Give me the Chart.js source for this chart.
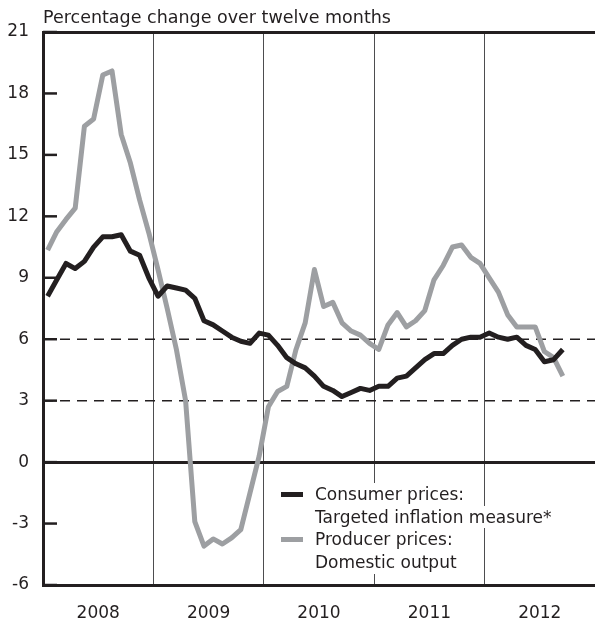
<!DOCTYPE html>
<html>
<head>
<meta charset="utf-8">
<script src="https://cdn.jsdelivr.net/npm/chart.js@4/dist/chart.umd.min.js"></script>
<style>
  body { margin: 0; background: #fff; }
  #wrap { position: relative; width: 595px; height: 625px; font-family: "DejaVu Sans", sans-serif; color: #231f20; }
  #title { position: absolute; left: 43px; top: 7px; font-size: 17.5px; line-height: 20px; white-space: nowrap; }
  #legend { position: absolute; left: 281px; top: 483px; font-size: 17px; }
  #legend .row { position: relative; height: 22.7px; line-height: 22.7px; white-space: nowrap; }
  #legend .sw { position: absolute; left: 0; top: 9px; width: 22px; height: 5px; }
  #legend .txt { position: absolute; left: 34px; background: #fff; padding-right: 2px; }
</style>
</head>
<body>
<div id="wrap">
  <canvas id="chart" width="595" height="625"></canvas>
  <div id="title">Percentage change over twelve months</div>
  <div id="legend"></div>
</div>
<script>
const YEARS = ["2008", "2009", "2010", "2011", "2012"];
const DASHED_LEVELS = [3, 6];

// monthly, Jan 2008 - Sep 2012
const consumerPrices = [
  8.1, 8.9, 9.7, 9.45, 9.8, 10.5, 11.0, 11.0, 11.1, 10.3, 10.1, 9.0,
  8.1, 8.6, 8.5, 8.4, 8.0, 6.9, 6.7, 6.4, 6.1, 5.9, 5.8, 6.3,
  6.2, 5.7, 5.1, 4.8, 4.6, 4.2, 3.7, 3.5, 3.2, 3.4, 3.6, 3.5,
  3.7, 3.7, 4.1, 4.2, 4.6, 5.0, 5.3, 5.3, 5.7, 6.0, 6.1, 6.1,
  6.3, 6.1, 6.0, 6.1, 5.7, 5.5, 4.9, 5.0, 5.5,
];
const producerPrices = [
  10.35, 11.25, 11.85, 12.4, 16.4, 16.75, 18.9, 19.1, 16.0, 14.6, 12.8, 11.2,
  9.4, 7.5, 5.5, 3.0, -2.9, -4.1, -3.75, -4.0, -3.7, -3.3, -1.5, 0.3,
  2.7, 3.45, 3.7, 5.5, 6.8, 9.4, 7.6, 7.8, 6.8, 6.4, 6.2, 5.8,
  5.5, 6.7, 7.3, 6.6, 6.9, 7.4, 8.9, 9.6, 10.5, 10.6, 10.0, 9.7,
  9.0, 8.3, 7.2, 6.6, 6.6, 6.6, 5.4, 5.1, 4.2,
];

const SERIES = [
  { label: ["Consumer prices:", "Targeted inflation measure*"], data: consumerPrices, color: "#231f20" },
  { label: ["Producer prices:", "Domestic output"], data: producerPrices, color: "#9d9fa2" },
];

const INK = "#231f20";

// month i sits in the middle of its slot on a 0..60 month axis
const toPoints = (arr) => arr.map((v, i) => ({ x: i + 0.5, y: v }));

const guides = {
  id: "guides",
  beforeDatasetsDraw(chart) {
    const { ctx, chartArea: a, scales: { y } } = chart;
    ctx.save();
    ctx.strokeStyle = INK;
    ctx.lineWidth = 1.5;
    ctx.setLineDash([10, 7]);
    DASHED_LEVELS.forEach((v) => {
      const py = y.getPixelForValue(v);
      ctx.beginPath(); ctx.moveTo(a.left, py); ctx.lineTo(a.right, py); ctx.stroke();
    });
    ctx.setLineDash([]);
    ctx.lineWidth = 2.5;
    y.ticks.forEach((t) => {
      const py = y.getPixelForValue(t.value);
      ctx.beginPath(); ctx.moveTo(a.left, py); ctx.lineTo(a.left + 14, py); ctx.stroke();
    });
    ctx.restore();
  },
};

new Chart(document.getElementById("chart"), {
  type: "line",
  data: {
    datasets: SERIES.map((s) => ({
      label: s.label.join(" "),
      data: toPoints(s.data),
      borderColor: s.color,
      backgroundColor: s.color,
      borderWidth: 5,
      pointRadius: 0,
      tension: 0,
      borderJoinStyle: "round",
      borderCapStyle: "butt",
    })),
  },
  options: {
    responsive: false,
    animation: false,
    layout: { padding: { top: 32, left: 0, right: 0, bottom: 0 } },
    plugins: { legend: { display: false }, tooltip: { enabled: false } },
    scales: {
      x: {
        type: "linear", min: 0, max: 60,
        afterFit: (s) => { s.height = 40; s.paddingLeft = 0; s.paddingRight = 0; },
        ticks: {
          stepSize: 6, autoSkip: false, maxRotation: 0, padding: 18,
          color: INK, font: { family: "DejaVu Sans", size: 17 },
          callback: (v) => (v % 12 === 6 ? YEARS[(v - 6) / 12] : ""),
        },
        grid: {
          drawTicks: false,
          color: (c) => (c.tick && c.tick.value % 12 === 0 && c.tick.value > 0 && c.tick.value < 60 ? "#4d4d4f" : "rgba(0,0,0,0)"),
          lineWidth: 1,
        },
        border: { color: INK, width: 3 },
      },
      y: {
        min: -6, max: 21,
        afterFit: (s) => { s.width = 43; s.paddingTop = 0; s.paddingBottom = 0; },
        ticks: {
          stepSize: 3, padding: 14,
          color: INK, font: { family: "DejaVu Sans", size: 17 },
        },
        grid: {
          drawTicks: false,
          color: (c) => (c.tick && (c.tick.value === 0 || c.tick.value === 21) ? INK : "rgba(0,0,0,0)"),
          lineWidth: 3,
        },
        border: { color: INK, width: 3 },
      },
    },
  },
  plugins: [guides],
});

document.getElementById("legend").innerHTML = SERIES.map((s) =>
  s.label.map((line, j) => `
    <div class="row">
      ${j === 0 ? `<div class="sw" style="background:${s.color}"></div>` : ""}
      <span class="txt">${line}</span>
    </div>`).join("")
).join("");
</script>
</body>
</html>
